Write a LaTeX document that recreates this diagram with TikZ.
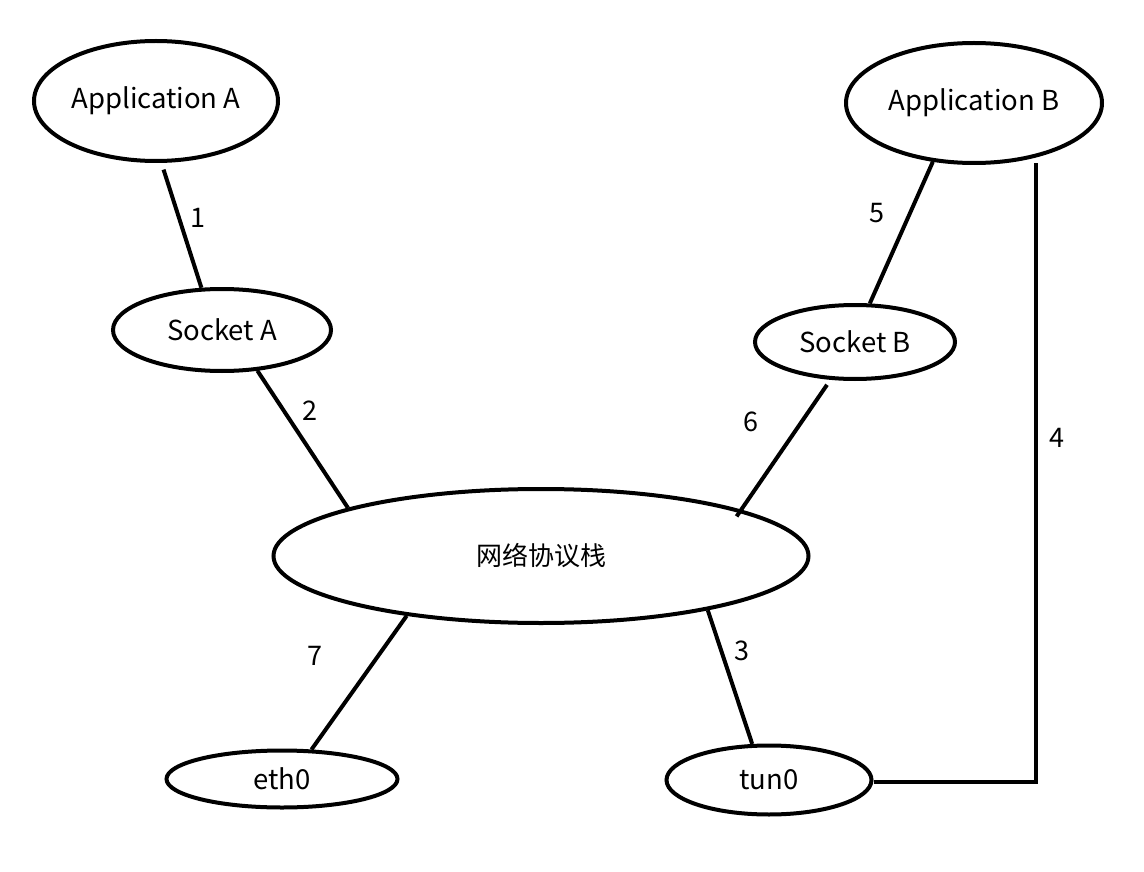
\documentclass[tikz,border=0pt]{standalone}
\usepackage{fontspec}
\setmainfont{Noto Sans CJK SC}
\usetikzlibrary{shapes.geometric}
\tikzset{
  ell/.style={ellipse, draw=black, line width=4pt, inner sep=0pt, font=\fontsize{27.5}{32}\selectfont},
  conn/.style={draw=black, line width=4pt},
  lbl/.style={font=\fontsize{27}{32}\selectfont, inner sep=0pt}
}
\begin{document}
\begin{tikzpicture}[x=1pt,y=-1pt]
\useasboundingbox[fill=white] (0,0) rectangle (1144,872);
\node[ell, minimum width=244pt, minimum height=120pt] (appA) at (156,101) {Application A};
\node[ell, minimum width=256pt, minimum height=120pt] (appB) at (974,103) {Application B};
\node[ell, minimum width=218pt, minimum height=82pt] (sockA) at (222,330) {Socket A};
\node[ell, minimum width=200pt, minimum height=74pt] (sockB) at (855,342) {Socket B};
\node[ell, minimum width=535pt, minimum height=134pt, font=\fontsize{26}{30}\selectfont] (stack) at (541,556) {网络协议栈};
\node[ell, minimum width=231pt, minimum height=57pt] (eth) at (282,779) {eth0};
\node[ell, minimum width=205pt, minimum height=69pt] (tun) at (769,780) {tun0};
\coordinate (c4) at (1036,782);

\draw[conn, shorten <=7pt] (appA.-85) -- (sockA.116);
\draw[conn] (sockA.-49.6) -- (stack.166);
\draw[conn] (appB.235.3) -- (sockB.69.3);
\draw[conn, shorten <=6pt, shorten >=-8pt] (sockB.237.9) -- (stack.13.2);
\draw[conn] (stack.-18.9) -- (tun.115.9);
\draw[conn] (stack.204) -- (eth.45.9);
\draw[conn] (tun.east |- c4) -- (c4) -- (c4 |- appB.-60);

\node[lbl] (l1) at (198,218) {1};
\node[lbl] (l2) at (310,411) {2};
\node[lbl] (l3) at (742,651) {3};
\node[lbl] (l4) at (1057,438) {4};
\node[lbl] (l5) at (877,213) {5};
\node[lbl] (l6) at (751,422) {6};
\node[lbl] (l7) at (315,656) {7};
\end{tikzpicture}
\end{document}
